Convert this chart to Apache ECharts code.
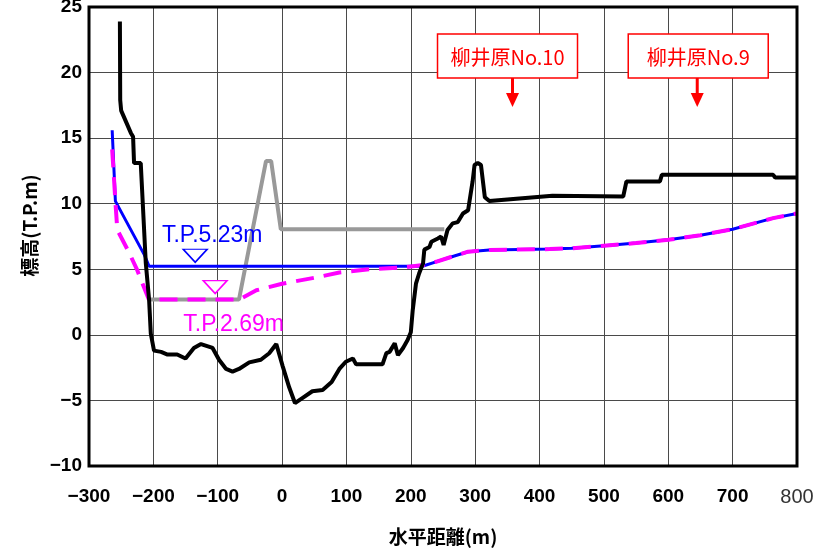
<!DOCTYPE html>
<html><head><meta charset="utf-8">
<script src="https://cdn.jsdelivr.net/npm/echarts@6/dist/echarts.min.js"></script>
<style>html,body{margin:0;padding:0;background:#fff}#c{width:817px;height:553px}</style>
</head><body><div id="c"></div>
<script>
// ground profile (black)
const groundX = [-252,-251.5,-250,-235,-231.5,-230,-219.6,-211.8,-206.6,-204,-199,-188,-178,-163,-150,-137,-126,-108,-98,-87,-77,-67,-51,-33,-20,-9,1,11,20,32,47,63,77,89,99,110,115,156,162,167,175,180,188,195,200,203,208,213,219,221,229,232,242,247,251,257,265,273,281,289,296,299,304,309,315,322,420,530,535,587,590,763,766,800];
const groundY = [23.9,17.9,17.1,15.4,15.1,13.1,13.1,5.5,2.65,0.1,-1.2,-1.3,-1.5,-1.5,-1.8,-1.0,-0.7,-1.0,-1.9,-2.6,-2.8,-2.6,-2.1,-1.9,-1.4,-0.7,-2.4,-4.0,-5.2,-4.8,-4.3,-4.2,-3.6,-2.6,-2.05,-1.8,-2.25,-2.25,-1.4,-1.3,-0.65,-1.55,-1.0,-0.4,0.2,1.9,3.9,4.7,5.45,6.5,6.7,7.1,7.35,7.5,6.85,8.0,8.5,8.6,9.25,9.5,11.7,12.95,13.1,12.95,10.5,10.2,10.6,10.55,11.7,11.7,12.2,12.2,12.0,12.0];
// high water level (blue)
const highX = [-264,-259,-214,-206.6,218,239,260,289,322,416,450,500,550,600,650,700,763,800];
const highY = [15.6,10.2,6.1,5.23,5.23,5.57,5.9,6.34,6.47,6.54,6.6,6.8,7.0,7.25,7.6,8.05,8.9,9.26];
// low water level (magenta dashed)
const lowX = [-264,-261,-259,-256,-238,-225,-207,-67,-40,0,50,89,136,188,219,239,260,289,322,416,450,500,550,600,650,700,763,800];
const lowY = [14.15,11.8,10.15,8.0,6.3,4.93,2.69,2.69,3.4,3.9,4.35,4.75,5.0,5.14,5.32,5.57,5.9,6.34,6.47,6.54,6.6,6.8,7.0,7.25,7.6,8.05,8.9,9.26];
// embankment (gray)
const bankX = [-205,-67,-25,-17,-2,252];
const bankY = [2.69,2.69,13.25,13.25,8.05,8.05];
// water level marks
const waterHigh = 5.23, waterHighMarkX = -135, waterHighLabel = 'T.P.5.23m';
const waterLow = 2.69, waterLowMarkX = -104, waterLowLabel = 'T.P.2.69m';
// stations
const stationNames = ['柳井原No.10', '柳井原No.9'];
const stationX = [358, 645];
// axes
const xMin = -300, xMax = 800, xStep = 100;
const yMin = -10, yMax = 25, yStep = 5;
const xAxisName = '水平距離(m)', yAxisName = '標高(T.P.m)';

const zip = (a, b) => a.map((v, i) => [v, b[i]]);
const numFont = "'Liberation Sans',Arial,sans-serif";
const cjk = "'Noto Sans CJK JP',sans-serif";
const minus = v => String(v).replace('-', '\u2212');

const chart = echarts.init(document.getElementById('c'));
chart.setOption({
  animation: false,
  backgroundColor: '#fff',
  grid: { left: 89, right: 20, top: 7, bottom: 87, outerBoundsMode: 'none', containLabel: false, show: true, borderColor: '#000', borderWidth: 3, backgroundColor: 'transparent', z: 10 },
  xAxis: {
    type: 'value', min: xMin, max: xMax, interval: xStep,
    name: xAxisName, nameLocation: 'middle', nameGap: 61,
    nameTextStyle: { fontFamily: cjk, fontWeight: 'bold', fontSize: 19, color: '#000' },
    axisLine: { show: false }, axisTick: { show: false },
    splitLine: { lineStyle: { color: '#4a4a4a', width: 1 } },
    axisLabel: {
      margin: 21, fontFamily: numFont, fontWeight: 'bold', fontSize: 19, color: '#000',
      formatter: v => v === xMax ? '{t|' + v + '}' : minus(v),
      rich: { t: { fontFamily: numFont, fontWeight: 'normal', fontSize: 20, color: '#333', padding: [0, 0, 14, 0] } }
    }
  },
  yAxis: {
    type: 'value', min: yMin, max: yMax, interval: yStep,
    name: yAxisName, nameLocation: 'middle', nameGap: 50, nameRotate: 90,
    nameTextStyle: { fontFamily: cjk, fontWeight: 'bold', fontSize: 19, color: '#000', padding: [0, 0, 0, 22] },
    axisLine: { show: false }, axisTick: { show: false },
    splitLine: { lineStyle: { color: '#4a4a4a', width: 1 } },
    axisLabel: { margin: 7, fontFamily: numFont, fontWeight: 'bold', fontSize: 19, color: '#000', formatter: v => minus(v) }
  },
  series: [
    { type: 'line', data: zip(bankX, bankY), symbol: 'none', lineStyle: { color: '#999', width: 4 }, z: 2 },
    { type: 'line', data: zip(highX, highY), symbol: 'none', lineStyle: { color: '#0000ff', width: 3 }, z: 3,
      markPoint: { silent: true, data: [
        { coord: [waterHighMarkX, waterHigh], symbol: 'triangle', symbolRotate: 180, symbolSize: [24, 13], symbolOffset: [0, -10.5],
          itemStyle: { color: '#fff', borderColor: '#0000ff', borderWidth: 1.5 }, label: { show: false } },
        { coord: [waterHighMarkX, waterHigh], symbol: 'circle', symbolSize: 0,
          label: { show: true, position: 'inside', offset: [17, -31], formatter: waterHighLabel, color: '#0000ff', fontFamily: "'Liberation Sans',Arial,sans-serif", fontSize: 23 } }
      ] } },
    { type: 'line', data: zip(lowX, lowY), symbol: 'none', lineStyle: { color: '#ff00ff', width: 4, type: [18, 10] }, z: 4,
      markPoint: { silent: true, data: [
        { coord: [waterLowMarkX, waterLow], symbol: 'triangle', symbolRotate: 180, symbolSize: [24, 13], symbolOffset: [0, -12.5],
          itemStyle: { color: '#fff', borderColor: '#ff00ff', borderWidth: 1.5 }, label: { show: false } },
        { coord: [waterLowMarkX, waterLow], symbol: 'circle', symbolSize: 0,
          label: { show: true, position: 'inside', offset: [18.5, 25], formatter: waterLowLabel, color: '#ff00ff', fontFamily: "'Liberation Sans',Arial,sans-serif", fontSize: 23 } }
      ] } },
    { type: 'line', data: zip(groundX, groundY), symbol: 'none', lineStyle: { color: '#000', width: 4 }, z: 5 }
  ]
});

// station annotations
const boxDx = [-5, 1];
const graphics = [];
stationNames.forEach((name, i) => {
  const px = chart.convertToPixel({ xAxisIndex: 0 }, stationX[i]);
  const cx = px + boxDx[i];
  graphics.push({ type: 'rect', shape: { x: cx - 70, y: 34, width: 140, height: 44 }, style: { fill: '#fff', stroke: '#ff0000', lineWidth: 1.5 }, z: 100 });
  graphics.push({ type: 'text', x: cx, y: 57, style: { text: name, fill: '#ff0000', font: "20px 'Noto Sans CJK JP', sans-serif", align: 'center', verticalAlign: 'middle' }, z: 101 });
  graphics.push({ type: 'line', shape: { x1: px, y1: 78, x2: px, y2: 95 }, style: { stroke: '#ff0000', lineWidth: 3 }, z: 100 });
  graphics.push({ type: 'polygon', shape: { points: [[px - 6.5, 93], [px + 6.5, 93], [px, 107]] }, style: { fill: '#ff0000' }, z: 100 });
});
chart.setOption({ graphic: graphics });
</script></body></html>
